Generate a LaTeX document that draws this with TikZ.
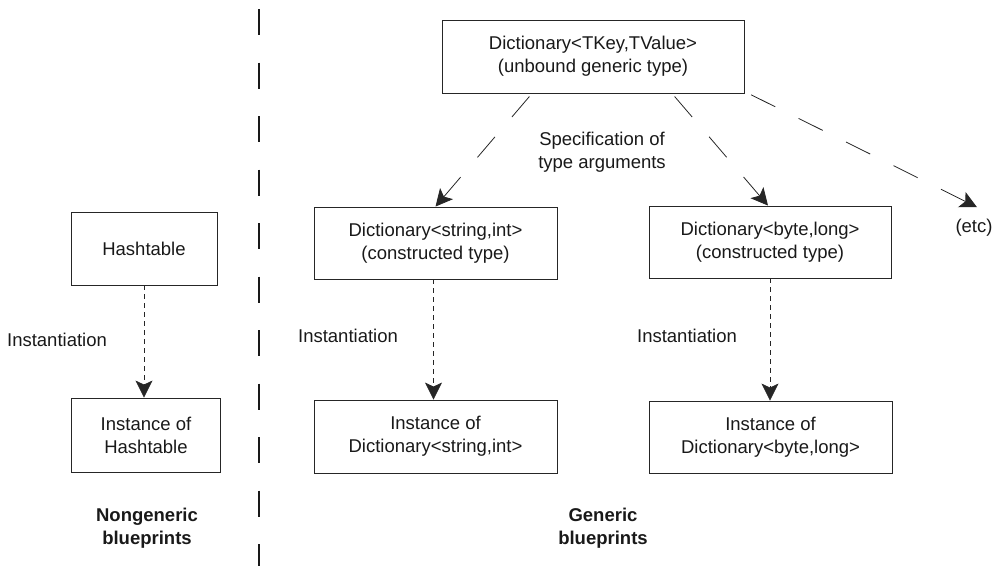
\documentclass[tikz,border=0pt]{standalone}
\usepackage{fontspec}
\setmainfont{Liberation Sans}
\usetikzlibrary{arrows.meta}
\begin{document}
\begin{tikzpicture}[x=1pt,y=-1pt,
  every node/.style={font=\fontsize{18.5}{23}\selectfont, align=center, text=black!90},
  box/.style={draw=black!85, line width=0.9pt, inner sep=0pt},
  lbl/.style={inner sep=0pt},
  bold/.style={inner sep=0pt, font=\fontsize{18.5}{23}\selectfont\bfseries},
  tip/.style={-{Stealth[length=17pt,width=17pt,inset=4pt]}},
  inst/.style={tip, draw=black!85, line width=0.8pt, dash pattern=on 5pt off 4pt},
  spec/.style={tip, draw=black!85, line width=0.8pt, dash pattern=on 27pt off 26pt},
  divider/.style={draw=black!90, line width=1.1pt, dash pattern=on 26pt off 27.5pt}
]
\useasboundingbox (0,0) rectangle (998,566);

% divider
\coordinate (dtop) at (259,9);
\coordinate (dbot) at (259,566);
\draw[divider] (dtop) -- (dbot);

% nodes
\node[box, minimum width=302pt, minimum height=73pt] (top) at (593,56.5)
  {Dictionary<TKey,TValue>\\(unbound generic type)};
\node[box, minimum width=146pt, minimum height=73pt] (hash) at (144,248.5) {Hashtable};
\node[box, minimum width=149pt, minimum height=74pt] (ihash) at (146,435) {Instance of\\Hashtable};
\node[box, minimum width=243pt, minimum height=72pt] (dsi) at (435.5,243)
  {Dictionary<string,int>\\(constructed type)};
\node[box, minimum width=242pt, minimum height=72pt] (dbl) at (770,242)
  {Dictionary<byte,long>\\(constructed type)};
\node[box, minimum width=243pt, minimum height=73pt] (idsi) at (435.5,436.5)
  {Instance of\\Dictionary<string,int>};
\node[box, minimum width=243pt, minimum height=72pt] (idbl) at (770.5,437)
  {Instance of\\Dictionary<byte,long>};

\node[lbl] (etc) at (974,228) {(etc)};
\node[lbl] (spec) at (602,152) {Specification of\\type arguments};
\node[lbl] (inst1) at (57,339.5) {Instantiation};
\node[lbl] (inst2) at (348,336) {Instantiation};
\node[lbl] (inst3) at (687,336) {Instantiation};
\node[bold] (ng) at (147,528) {Nongeneric\\blueprints};
\node[bold] (g) at (603,528) {Generic\\blueprints};

% connectors
\draw[spec, shorten <=4pt] ([xshift=-61pt]top.south) -- (dsi.north);
\draw[spec, shorten <=4pt] ([xshift=79pt]top.south) -- ([xshift=-2pt]dbl.north);
\draw[spec, shorten <=3pt] ([xshift=4pt]top.south east) -- ([xshift=3pt,yshift=12pt]etc.north);

\draw[inst] (hash.south) -- (hash.south |- ihash.north);
\draw[inst] ([xshift=-2pt]dsi.south) -- ([xshift=-2pt]dsi.south |- idsi.north);
\draw[inst] (dbl.south) -- (dbl.south |- idbl.north);
\end{tikzpicture}
\end{document}
